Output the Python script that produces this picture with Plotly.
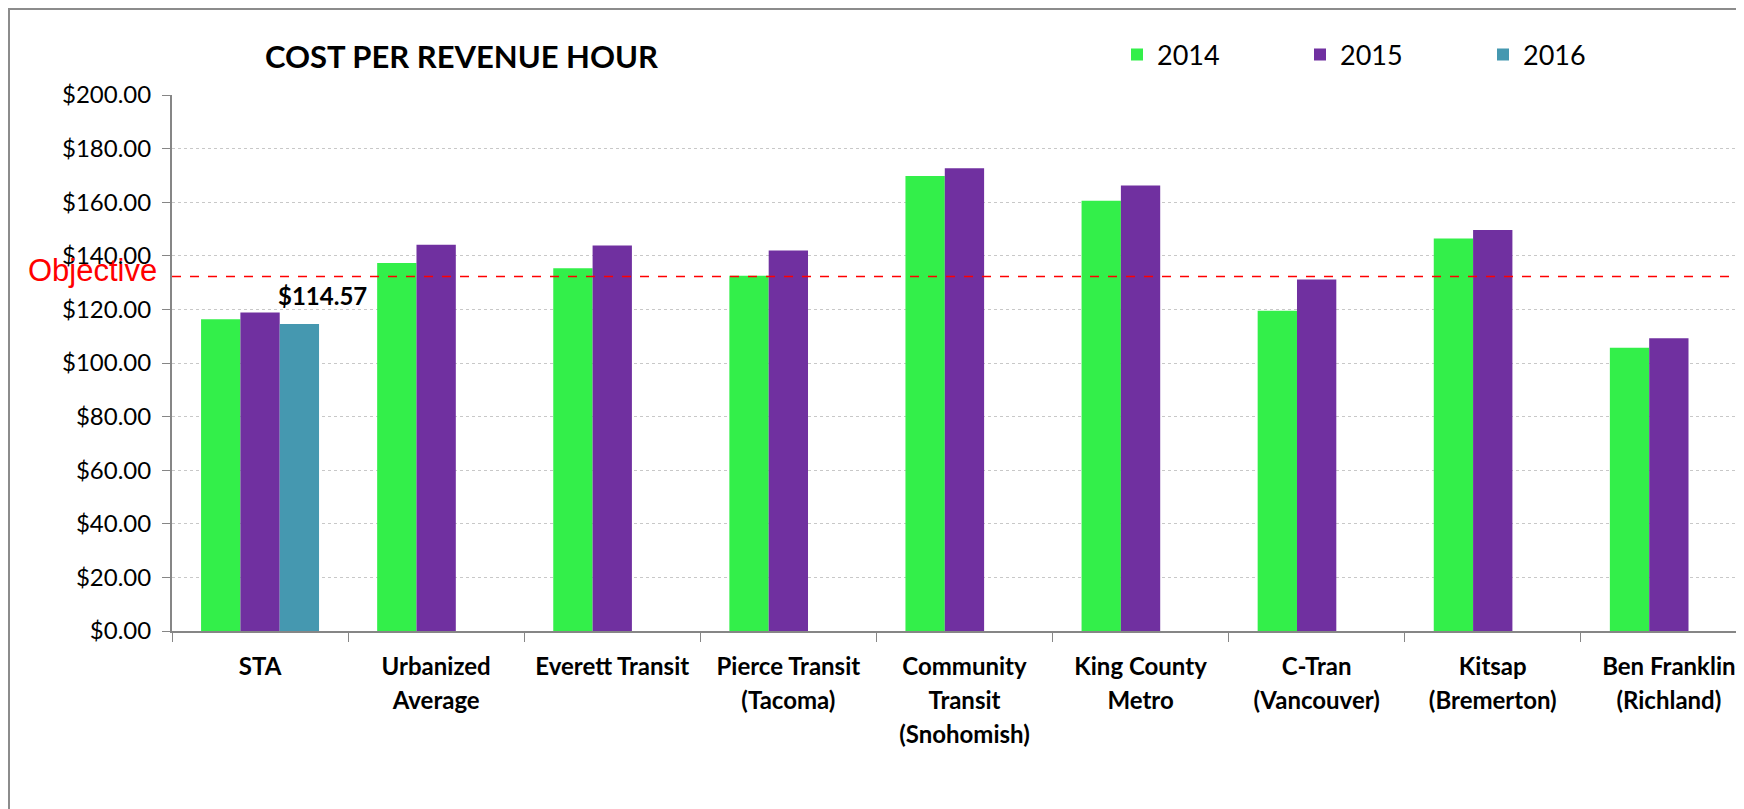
import plotly.graph_objects as go

# values
AGENCIAS = ["STA", "Urbanized<br>Average", "Everett Transit", "Pierce Transit<br>(Tacoma)",
            "Community<br>Transit<br>(Snohomish)", "King County<br>Metro",
            "C-Tran<br>(Vancouver)", "Kitsap<br>(Bremerton)", "Ben Franklin<br>(Richland)"]
COSTO_2014 = [116.3, 137.3, 135.4, 132.6, 169.8, 160.5, 119.5, 146.5, 105.7]
COSTO_2015 = [118.8, 144.1, 143.8, 142.0, 172.7, 166.2, 131.2, 149.6, 109.2]
COSTO_2016 = [114.57, None, None, None, None, None, None, None, None]
OBJETIVO = 132.3
Y_TICKS = [0, 20, 40, 60, 80, 100, 120, 140, 160, 180, 200]

# la página añade 8 px de margen al div: todo se mide en px de página y se corrige
OFF = 8
W, H = 1744 - OFF, 809 - OFF
ML, MT = 172 - OFF, 95 - OFF
MB = H - (631 - OFF)
PW = W - ML
PH = H - MT - MB
CAT_PX = 176.1


def px_x(px):
    return (px - OFF - ML) / PW


def px_y(py):
    return (H - MB - (py - OFF)) / PH


fig = go.Figure()
for nombre, valores, color in [("2014", COSTO_2014, "#33EF4A"),
                               ("2015", COSTO_2015, "#7030A0"),
                               ("2016", COSTO_2016, "#4598B0")]:
    fig.add_trace(go.Bar(x=AGENCIAS, y=valores, name=nombre,
                         marker=dict(color=color, line=dict(width=0))))

# línea de objetivo
fig.add_shape(type="line", xref="paper", yref="y", x0=0, x1=px_x(1738),
              y0=OBJETIVO, y1=OBJETIVO, line=dict(color="#FF0000", width=1.5, dash="dash"))
fig.add_annotation(xref="paper", yref="y", x=px_x(92), y=OBJETIVO, yshift=6,
                   text="Objective", showarrow=False, xanchor="center", yanchor="middle",
                   font=dict(family="Liberation Sans, Arial", size=31, color="#FF0000"))
fig.add_annotation(x=AGENCIAS[0], y=COSTO_2016[0], xshift=62, yshift=12,
                   text=f"${COSTO_2016[0]:.2f}", showarrow=False, yanchor="bottom",
                   font=dict(family="Lato", size=24, color="#000000", weight="bold"))

# marco del gráfico
fig.add_shape(type="line", xref="paper", yref="paper", x0=px_x(OFF), x1=px_x(1744),
              y0=px_y(OFF + 1), y1=px_y(OFF + 1), line=dict(color="#8C8C8C", width=2))
fig.add_shape(type="line", xref="paper", yref="paper", x0=px_x(OFF + 1), x1=px_x(OFF + 1),
              y0=px_y(OFF), y1=px_y(809), line=dict(color="#8C8C8C", width=2))

fig.update_layout(
    width=W, height=H,
    margin=dict(l=ML, r=0, t=MT, b=MB, autoexpand=False),
    paper_bgcolor="white", plot_bgcolor="white",
    font=dict(family="Lato", color="#000000"),
    title=dict(text="<b>COST PER REVENUE HOUR</b>", xref="container", yref="container",
               x=(265 - OFF) / W, xanchor="left", y=1 - (57 - OFF) / H, yanchor="middle",
               font=dict(family="Lato", size=31, color="#000000")),
    barmode="group", bargap=0.33, bargroupgap=0,
    legend=dict(orientation="h", x=px_x(1117), y=px_y(55), xanchor="left", yanchor="middle",
                entrywidth=138, entrywidthmode="pixels", font=dict(family="Lato", size=27),
                bgcolor="rgba(0,0,0,0)"),
    xaxis=dict(range=[-0.5, -0.5 + PW / CAT_PX], tickson="boundaries", ticks="outside",
               ticklen=9, tickcolor="#868686", tickwidth=1, showline=True,
               linecolor="#868686", linewidth=2, showgrid=False, tickangle=0,
               ticklabelstandoff=11,
               tickfont=dict(family="Lato", size=26, color="#000000", weight="bold")),
    yaxis=dict(range=[0, 200], tickvals=Y_TICKS, ticktext=[f"${v:.2f}" for v in Y_TICKS],
               ticks="outside", ticklen=8, tickcolor="#868686", showline=True,
               linecolor="#868686", linewidth=2, showgrid=True, gridcolor="#C8C8C8",
               griddash="dot", gridwidth=1, zeroline=False, ticklabelstandoff=6,
               tickfont=dict(family="Lato", size=24, color="#000000")),
)
# renglones de las etiquetas con interlineado amplio (fuente externa 26, glifos a 24)
SPAN = "<span style='font-size:24px'>"
fig.update_xaxes(tickvals=AGENCIAS,
                 ticktext=[SPAN + a.replace("<br>", "</span><br>" + SPAN) + "</span>" for a in AGENCIAS])

fig.write_html("out.html")
